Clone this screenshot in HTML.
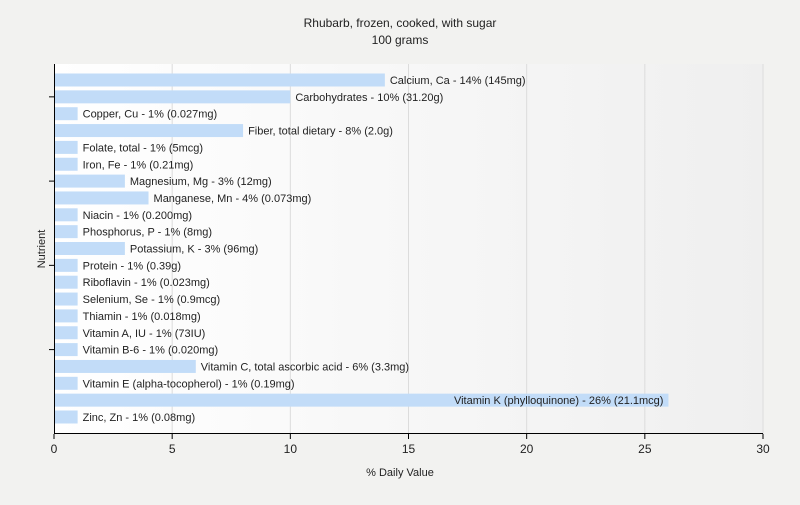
<!DOCTYPE html>
<html><head><meta charset="utf-8"><style>
body{margin:0;background:#f2f2f0;font-family:"Liberation Sans",sans-serif;}
svg text{font-family:"Liberation Sans",sans-serif;}
</style></head><body>
<svg width="800" height="500">
<defs><linearGradient id="bg" x1="0" x2="1" y1="0" y2="0"><stop offset="0" stop-color="#ffffff"/><stop offset="1" stop-color="#efefef"/></linearGradient></defs>
<text x="400" y="27" text-anchor="middle" font-size="12" fill="#222">Rhubarb, frozen, cooked, with sugar</text>
<text x="400" y="44" text-anchor="middle" font-size="12" fill="#222">100 grams</text>
<rect x="54" y="64" width="709" height="370" fill="url(#bg)"/>
<g id="grid"></g><g id="bars"></g><g id="axes"></g>
<text x="400" y="476" text-anchor="middle" font-size="11" fill="#222">% Daily Value</text>
<text transform="translate(45,249) rotate(-90)" text-anchor="middle" font-size="11" fill="#222">Nutrient</text>
</svg>
<script>
const categories=["Calcium, Ca","Carbohydrates","Copper, Cu","Fiber, total dietary","Folate, total","Iron, Fe","Magnesium, Mg","Manganese, Mn","Niacin","Phosphorus, P","Potassium, K","Protein","Riboflavin","Selenium, Se","Thiamin","Vitamin A, IU","Vitamin B-6","Vitamin C, total ascorbic acid","Vitamin E (alpha-tocopherol)","Vitamin K (phylloquinone)","Zinc, Zn"];
const values=[14,10,1,8,1,1,3,4,1,1,3,1,1,1,1,1,1,6,1,26,1];
const amounts=["145mg","31.20g","0.027mg","2.0g","5mcg","0.21mg","12mg","0.073mg","0.200mg","8mg","96mg","0.39g","0.023mg","0.9mcg","0.018mg","73IU","0.020mg","3.3mg","0.19mg","21.1mcg","0.08mg"];
const xTicks=[0,5,10,15,20,25,30];
const NS="http://www.w3.org/2000/svg";
const x=v=>54+v*(709/30);
const y=i=>80+i*16.85;
function mk(t,a,p){const e=document.createElementNS(NS,t);for(const k in a)e.setAttribute(k,a[k]);p.appendChild(e);return e;}
const grid=document.getElementById('grid'),bars=document.getElementById('bars'),axes=document.getElementById('axes');
xTicks.forEach(t=>{
 if(t>0){const g=mk('line',{x1:x(t),x2:x(t),y1:64,y2:434,stroke:'#dcdcdc'},grid);
 
 }
 const tk=mk('line',{x1:x(t),x2:x(t),y1:434,y2:439,stroke:'#000'},axes);
 
 
 const lb=mk('text',{x:x(t),y:453,'text-anchor':'middle','font-size':12,fill:'#222'},axes);lb.textContent=t;
 
 
});
categories.forEach((c,i)=>{
 const r=mk('rect',{x:55,y:y(i)-6.5,width:x(values[i])-55,height:13,fill:'#c2dcf8'},bars);
 
 
 const inside=x(values[i])>560;
 const t=mk('text',{x:inside?x(values[i])-5:x(values[i])+5,y:y(i)+4,'font-size':11,fill:'#222','text-anchor':inside?'end':'start'},bars);
 t.textContent=c+' - '+values[i]+'% ('+amounts[i]+')';
 
 
 if(i%5===1){const k=mk('line',{x1:49,x2:54,y1:y(i),y2:y(i),stroke:'#000'},axes);
 
 }
});
const ya=mk('line',{x1:54.5,x2:54.5,y1:64,y2:434,stroke:'#000'},axes);


const xa=mk('line',{x1:54,x2:763,y1:433.5,y2:433.5,stroke:'#000'},axes);


</script>
</body></html>
